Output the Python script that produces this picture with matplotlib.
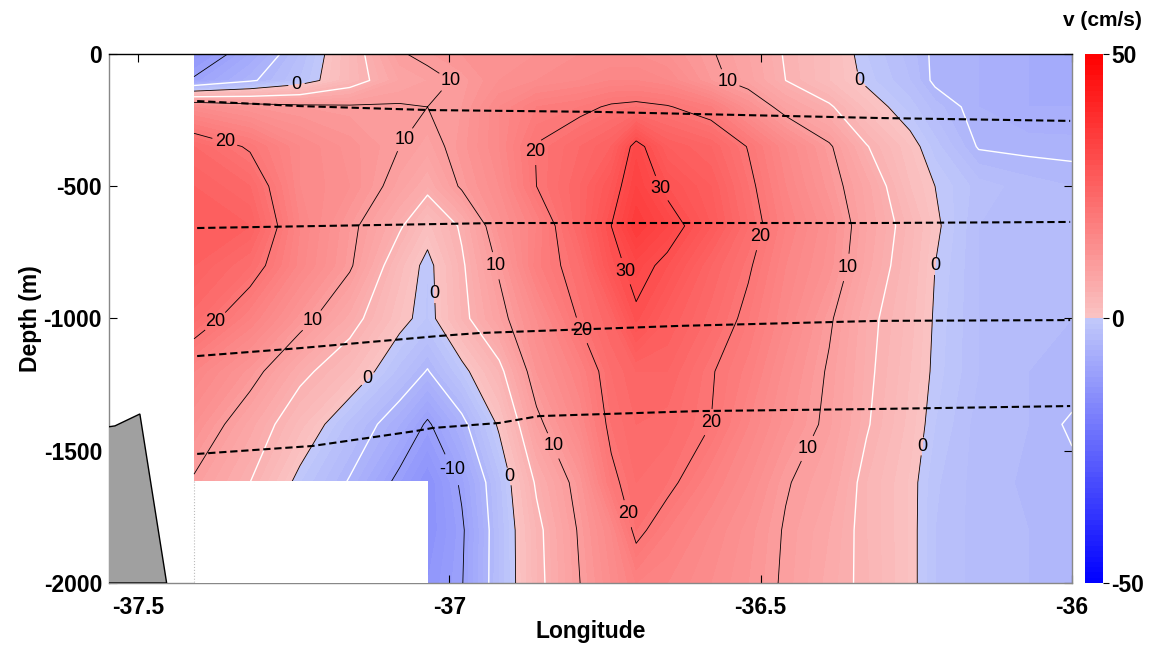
import numpy as np
import matplotlib
matplotlib.use("Agg")
import matplotlib.pyplot as plt
from matplotlib.colors import LinearSegmentedColormap
from matplotlib.patches import Rectangle

plt.rcParams['font.family'] = ['Liberation Sans', 'DejaVu Sans']
plt.rcParams['font.weight'] = 'bold'
plt.rcParams['axes.labelweight'] = 'bold'
plt.rcParams['axes.unicode_minus'] = False

# ---------------- data ----------------
lon = [-37.41, -37.32, -37.24, -37.16, -37.08, -37.035, -36.98, -36.92, -36.86,
       -36.79, -36.74, -36.70, -36.65, -36.58, -36.52, -36.46, -36.39, -36.33,
       -36.26, -36.22, -36.15, -36.07, -36.00]
depth = [0, -100, -200, -350, -500, -650, -800, -1000, -1200, -1400, -1620, -1800, -2000]

nan = np.nan
v_0000 = [-13, -8, -3, 3, 9.7, 10.8, 12, 13, 13, 14, 14, 14, 13, 10.3, 8, 4.7, 2, -1, -3.5, -5.5, -6, -7, -7]
v_0100 = [-9.5, -5.5, -2, 3, 8, 9, 10.5, 13, 14, 15, 16, 16, 15, 11, 8.5, 5, 2, -0.5, -3, -5.5, -6, -7, -7]
v_0200 = [14, 12, 11, 10.5, 10.3, 10, 11, 15, 18, 19, 20.5, 21, 20.3, 18, 13, 8.5, 5.5, 1.5, -1.5, -3.5, -6, -7, -7]
v_0350 = [23, 19.5, 15, 12.5, 10, 8.5, 11.5, 15, 20.2, 23, 25, 31.5, 26, 24, 19.8, 15, 10.5, 5.2, 1, -1.5, -5.2, -5.5, -5.6]
v_0500 = [25, 23, 15, 13, 8.5, 6, 10.5, 14, 20, 24, 28, 33, 29, 26, 21, 16, 11.5, 7.5, 2, 0, -2.5, -3.5, -4]
v_0650 = [26, 25, 16, 11, 5.5, 1.5, 5.5, 12.5, 17, 24, 30, 35, 32, 27, 22, 17, 13, 8, 3.5, 0.5, -3, -3.5, -4]
v_0800 = [25, 22, 15.5, 10.5, 2.5, -1, 4.5, 10.5, 17.5, 22, 28.5, 31.5, 29, 24, 20.5, 16, 12.5, 7.5, 3, 0, -3, -3.5, -4]
v_1000 = [22.5, 17, 11.5, 6.5, 1, -1.2, 4, 8.7, 14, 20.5, 24, 29.3, 26, 22.5, 19, 15, 10.5, 6, 2.5, -0.3, -3, -3.5, -4]
v_1200 = [16, 11.5, 6, 2.5, -2.5, -5.2, -1, 4, 12, 17, 22, 24, 24, 20.3, 17.5, 13.5, 9.6, 5.7, 2, -0.5, -3, -4, -4]
v_1400 = [13, 7.5, 2.5, -2.5, -7, -10.5, -6, 0.5, 9, 15, 21, 23, 22.5, 20, 16, 12.5, 9.2, 5.3, 1.5, -1, -3.5, -4, -5.3]
v_1620 = [9.5, 5, -1, -5.3, -11, -14, -9.5, -2.5, 5.5, 11.5, 19, 22, 21, 17, 14, 10.3, 8, 4, 0.8, -1.8, -3.5, -4.2, -4.5]
v_1800 = [nan, nan, nan, nan, nan, -14, -10.5, -3, 4, 10.5, 15, 21, 18, 15, 12.5, 9.7, 7, 4, 0.8, -2, -3.5, -4, -4]
v_2000 = [nan, nan, nan, nan, nan, -13, -10.2, -3, 3.8, 10, 14, 17, 16, 14, 12, 9.5, 6.5, 4.2, 0.8, -2, -3.5, -4, -4]

# no-data box (bottom left)
box_lon = [-37.41, -37.035]
box_dep = [-1615, -2000]

# isopycnal (dashed) lines
iso1_lon = [-37.405, -37.240, -37.032, -36.760, -36.311, -36.003]
iso1_dep = [-178, -197, -212, -219, -242, -253]
iso2_lon = [-37.405, -36.920, -36.311, -36.003]
iso2_dep = [-658, -639, -639, -635]
iso3_lon = [-37.405, -37.240, -37.016, -36.952, -36.631, -36.311, -36.003]
iso3_dep = [-1142, -1112, -1066, -1055, -1028, -1009, -1006]
iso4_lon = [-37.405, -37.220, -37.053, -37.027, -36.920, -36.856, -36.599, -36.311, -36.003]
iso4_dep = [-1512, -1482, -1425, -1414, -1395, -1369, -1350, -1342, -1331]

# bathymetry
bathy_lon = [-37.56, -37.537, -37.497, -37.454, -37.56]
bathy_dep = [-1414, -1406, -1361, -2000, -2000]

x_ticks = [-37.5, -37, -36.5, -36]
x_ticklabels = ['-37.5', '-37', '-36.5', '-36']
y_ticks = [0, -500, -1000, -1500, -2000]
cbar_ticks = [-50, 0, 50]

# ---------------- figure ----------------
V = np.ma.masked_invalid(np.array([v_0000, v_0100, v_0200, v_0350, v_0500, v_0650, v_0800,
                                   v_1000, v_1200, v_1400, v_1620, v_1800, v_2000], dtype=float))
LON, DEP = np.meshgrid(lon, depth)

cmap = LinearSegmentedColormap('split_bwr', {
    'red':   [(0.0, 0.0, 0.0), (0.5, 0.76, 0.98), (1.0, 1.0, 1.0)],
    'green': [(0.0, 0.0, 0.0), (0.5, 0.79, 0.77), (1.0, 0.0, 0.0)],
    'blue':  [(0.0, 1.0, 1.0), (0.5, 0.98, 0.77), (1.0, 0.0, 0.0)],
})

fig = plt.figure(figsize=(11.49, 6.48), dpi=100)
ax = fig.add_axes([0.0949, 0.1003, 0.8381, 0.8164])

levels = np.arange(-50, 50.1, 1.0)
cf = ax.contourf(LON, DEP, V, levels=levels, cmap=cmap, vmin=-50, vmax=50, zorder=1)
ax.contour(LON, DEP, V, levels=[-5, 5], colors='white', linewidths=1.0,
           linestyles='solid', zorder=2)
cs = ax.contour(LON, DEP, V, levels=[-10, 0, 10, 20, 30], colors='black',
                linewidths=0.6, linestyles='solid', zorder=3)

label_pos = [(-37.245, -129), (-36.989, -110), (-37.361, -336), (-37.069, -329),
             (-36.864, -367), (-36.659, -507), (-36.556, -121), (-36.359, -113),
             (-36.490, -699), (-36.928, -802), (-36.728, -832), (-37.021, -907),
             (-36.354, -813), (-36.215, -802), (-37.373, -1021), (-37.216, -1021),
             (-36.796, -1055), (-37.128, -1236), (-36.580, -1395), (-36.840, -1490),
             (-36.418, -1501), (-36.245, -1482), (-37.000, -1577), (-36.912, -1603),
             (-36.715, -1739)]
texts = ax.clabel(cs, fmt='%d', fontsize=13, manual=label_pos, inline=True, inline_spacing=4)
for t in texts:
    t.set_fontweight('normal')
    t.set_rotation(0)

ax.add_patch(Rectangle((box_lon[0], box_dep[1]), box_lon[1] - box_lon[0],
                       box_dep[0] - box_dep[1], facecolor='white', edgecolor='none',
                       zorder=3.5))

for lx, ly in [(iso1_lon, iso1_dep), (iso2_lon, iso2_dep), (iso3_lon, iso3_dep), (iso4_lon, iso4_dep)]:
    ax.plot(lx, ly, color='black', lw=1.5, dashes=(3.5, 1.8), zorder=4)

ax.fill(bathy_lon, bathy_dep, facecolor='#a0a0a0', edgecolor='black', lw=1.0, zorder=4)
ax.plot([box_lon[0], box_lon[0]], box_dep, color='#bbbbbb', lw=0.8, ls=':', zorder=4)

ax.set_xlim(-37.5465, -36.0)
ax.set_ylim(-2000, 0)
ax.set_xticks(x_ticks)
ax.set_xticklabels(x_ticklabels)
ax.set_yticks(y_ticks)
ax.tick_params(direction='in', top=True, right=True, length=6, width=0.8,
               labelsize=16.5, colors='black')
ax.tick_params(axis='x', pad=9)
ax.tick_params(axis='y', pad=5)
for s in ['left', 'bottom', 'right']:
    ax.spines[s].set_color('#888888')
ax.spines['top'].set_color('black')
for s in ax.spines.values():
    s.set_linewidth(1.0)

ax.set_xlabel('Longitude', fontsize=16.5)
ax.set_ylabel('Depth (m)', fontsize=16.5)
ax.xaxis.set_label_coords(0.5, -0.07)
ax.yaxis.set_label_coords(-0.07, 0.5)

cax = fig.add_axes([0.9443, 0.1003, 0.0157, 0.8164])
cb = fig.colorbar(cf, cax=cax, ticks=cbar_ticks)
cb.outline.set_visible(False)
cax.tick_params(length=4, width=0.8, labelsize=16.5, pad=2)
fig.text(1102 / 1149, 1 - 21 / 648, 'v (cm/s)', ha='center', va='center',
         fontsize=15, fontweight='bold')

fig.savefig('out.png', dpi=100)
